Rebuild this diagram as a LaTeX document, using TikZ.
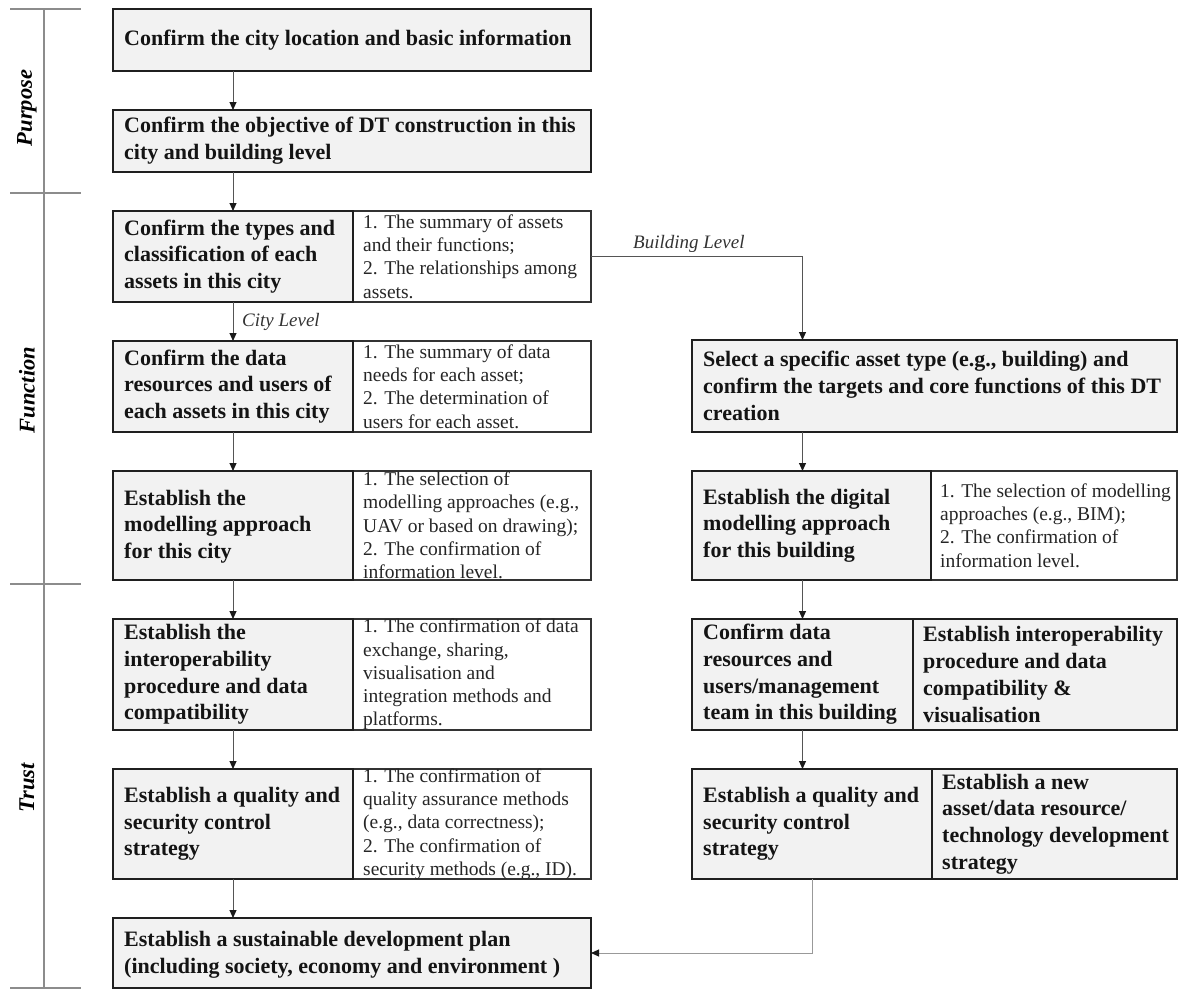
\documentclass[tikz,border=0pt]{standalone}
\usepackage{fontspec}
\setmainfont{Liberation Serif}
\usetikzlibrary{arrows.meta,calc}
\definecolor{boxgray}{HTML}{F2F2F2}
\definecolor{linegray}{HTML}{555555}
\definecolor{lightline}{HTML}{999999}
\definecolor{scalegray}{HTML}{8C8C8C}
\definecolor{bordergray}{HTML}{333333}
\definecolor{tipcol}{HTML}{1A1A1A}
\begin{document}
\begin{tikzpicture}[x=1pt,y=-1pt,
  gbox/.style={draw=black!88, line width=2pt, fill=boxgray, inner sep=0pt, outer sep=0pt, anchor=north west},
  wbox/.style={draw=bordergray, line width=1.3pt, fill=white, inner sep=0pt, outer sep=0pt, anchor=north west},
  btxt/.style={font=\fontsize{22}{26.7}\selectfont\bfseries, align=left, inner sep=0pt, anchor=west, text=black!92},
  wtxt/.style={font=\fontsize{19.5}{23.3}\selectfont, align=left, inner sep=0pt, anchor=west, text=black!85},
  lvl/.style={font=\fontsize{19}{22}\selectfont\itshape, inner sep=0pt, text=black!80},
  side/.style={font=\fontsize{22.5}{26}\selectfont\bfseries\itshape, inner sep=0pt, rotate=90},
  arr/.style={draw=linegray, line width=1pt, -{Triangle[length=8pt,width=7pt,color=tipcol,fill=tipcol]}},
  scl/.style={draw=scalegray, line width=1.3pt}]
\useasboundingbox (0,0) rectangle (1179,989);

% side scale
\coordinate (s1) at (44,9);
\coordinate (s2) at (44,988);
\draw[scl] (s1) -- (s2);
\draw[scl] (10,9) -- (81,9);
\draw[scl] (10,193) -- (81,193);
\draw[scl] (10,584) -- (81,584);
\draw[scl] (10,988) -- (81,988);
\node[side] (lpur) at (27,108) {Purpose};
\node[side] (lfun) at (27,390) {Function};
\node[side] (ltru) at (27,788) {Trust};

% left column boxes
\node[gbox, minimum width=478pt, minimum height=62pt] (b1) at (113,9) {};
\node[gbox, minimum width=478pt, minimum height=62pt] (b2) at (113,110) {};
\node[wbox, minimum width=238pt, minimum height=91pt] (b3w) at (353,211) {};
\node[gbox, minimum width=240pt, minimum height=91pt] (b3g) at (113,211) {};
\node[wbox, minimum width=238pt, minimum height=91pt] (b4w) at (353,341) {};
\node[gbox, minimum width=240pt, minimum height=91pt] (b4g) at (113,341) {};
\node[wbox, minimum width=238pt, minimum height=109pt] (b5w) at (353,471) {};
\node[gbox, minimum width=240pt, minimum height=109pt] (b5g) at (113,471) {};
\node[wbox, minimum width=238pt, minimum height=111pt] (b6w) at (353,619) {};
\node[gbox, minimum width=240pt, minimum height=111pt] (b6g) at (113,619) {};
\node[wbox, minimum width=238pt, minimum height=110pt] (b7w) at (353,769) {};
\node[gbox, minimum width=240pt, minimum height=110pt] (b7g) at (113,769) {};
\node[gbox, minimum width=478pt, minimum height=70pt] (b8) at (113,918) {};

% right column boxes
\node[gbox, minimum width=485pt, minimum height=92pt] (r1) at (692,340) {};
\node[wbox, minimum width=246pt, minimum height=109pt] (r2w) at (931,471) {};
\node[gbox, minimum width=239pt, minimum height=109pt] (r2g) at (692,471) {};
\node[gbox, minimum width=264pt, minimum height=111pt] (r3b) at (913,619) {};
\node[gbox, minimum width=221pt, minimum height=111pt] (r3a) at (692,619) {};
\node[gbox, minimum width=245pt, minimum height=110pt] (r4b) at (932,769) {};
\node[gbox, minimum width=240pt, minimum height=110pt] (r4a) at (692,769) {};

% texts left
\node[btxt] (t1) at ($(b1.west)+(11,0)$) {Confirm the city location and basic information};
\node[btxt] (t2) at ($(b2.west)+(11,0)$) {Confirm the objective of DT construction in this\\city and building level};
\node[btxt] (t3g) at ($(b3g.west)+(11,0)$) {Confirm the types and\\classification of each\\assets in this city};
\node[wtxt] (t3w) at ($(b3w.west)+(10,0)$) {1. The summary of assets\\and their functions;\\2. The relationships among\\assets.};
\node[btxt] (t4g) at ($(b4g.west)+(11,0)$) {Confirm the data\\resources and users of\\each assets in this city};
\node[wtxt] (t4w) at ($(b4w.west)+(10,0)$) {1. The summary of data\\needs for each asset;\\2. The determination of\\users for each asset.};
\node[btxt] (t5g) at ($(b5g.west)+(11,1)$) {Establish the\\modelling approach\\for this city};
\node[wtxt] (t5w) at ($(b5w.west)+(10,0)$) {1. The selection of\\modelling approaches (e.g.,\\UAV or based on drawing);\\2. The confirmation of\\information level.};
\node[btxt] (t6g) at ($(b6g.west)+(11,0)$) {Establish the\\interoperability\\procedure and data\\compatibility};
\node[wtxt] (t6w) at ($(b6w.west)+(10,0)$) {1. The confirmation of data\\exchange, sharing,\\visualisation and\\integration methods and\\platforms.};
\node[btxt] (t7g) at ($(b7g.west)+(11,0)$) {Establish a quality and\\security control\\strategy};
\node[wtxt] (t7w) at ($(b7w.west)+(10,0)$) {1. The confirmation of\\quality assurance methods\\(e.g., data correctness);\\2. The confirmation of\\security methods (e.g., ID).};
\node[btxt] (t8) at ($(b8.west)+(11,2)$) {Establish a sustainable development plan\\(including society, economy and environment )};

% texts right
\node[btxt] (tr1) at ($(r1.west)+(11,0)$) {Select a specific asset type (e.g., building) and\\confirm the targets and core functions of this DT\\creation};
\node[btxt] (tr2g) at ($(r2g.west)+(11,0)$) {Establish the digital\\modelling approach\\for this building};
\node[wtxt] (tr2w) at ($(r2w.west)+(9,0)$) {1. The selection of modelling\\approaches (e.g., BIM);\\2. The confirmation of\\information level.};
\node[btxt] (tr3a) at ($(r3a.west)+(11,0)$) {Confirm data\\resources and\\users/management\\team in this building};
\node[btxt] (tr3b) at ($(r3b.west)+(10,0)$) {Establish interoperability\\procedure and data\\compatibility \&\\visualisation};
\node[btxt] (tr4a) at ($(r4a.west)+(11,0)$) {Establish a quality and\\security control\\strategy};
\node[btxt] (tr4b) at ($(r4b.west)+(10,0)$) {Establish a new\\asset/data resource/\\technology development\\strategy};

% connectors left
\draw[arr] (b1.south -| b3g.north) -- (b2.north -| b3g.north);
\draw[arr] (b2.south -| b3g.north) -- (b3g.north);
\draw[arr] (b3g.south) -- (b4g.north);
\node[lvl, anchor=west] (citylvl) at ($(b3g.south)!0.5!(b4g.north)+(9,0)$) {City Level};
\draw[arr] (b4g.south) -- (b5g.north);
\draw[arr] (b5g.south) -- (b6g.north);
\draw[arr] (b6g.south) -- (b7g.north);
\draw[arr] (b7g.south) -- (b8.north -| b7g.south);

% connectors right
\draw[arr] (b3w.east) -- (b3w.east -| r3a.north) -- (r1.north -| r3a.north);
\node[lvl, anchor=base west] (bldlvl) at ($(b3w.east)+(42,-8)$) {Building Level};
\draw[arr] (r1.south -| r3a.north) -- (r2g.north -| r3a.north);
\draw[arr] (r2g.south -| r3a.north) -- (r3a.north);
\draw[arr] (r3a.south) -- (r4a.north -| r3a.south);
\draw[arr, draw=lightline] (r4a.south) -- (r4a.south |- b8.east) -- (b8.east);
\end{tikzpicture}
\end{document}
